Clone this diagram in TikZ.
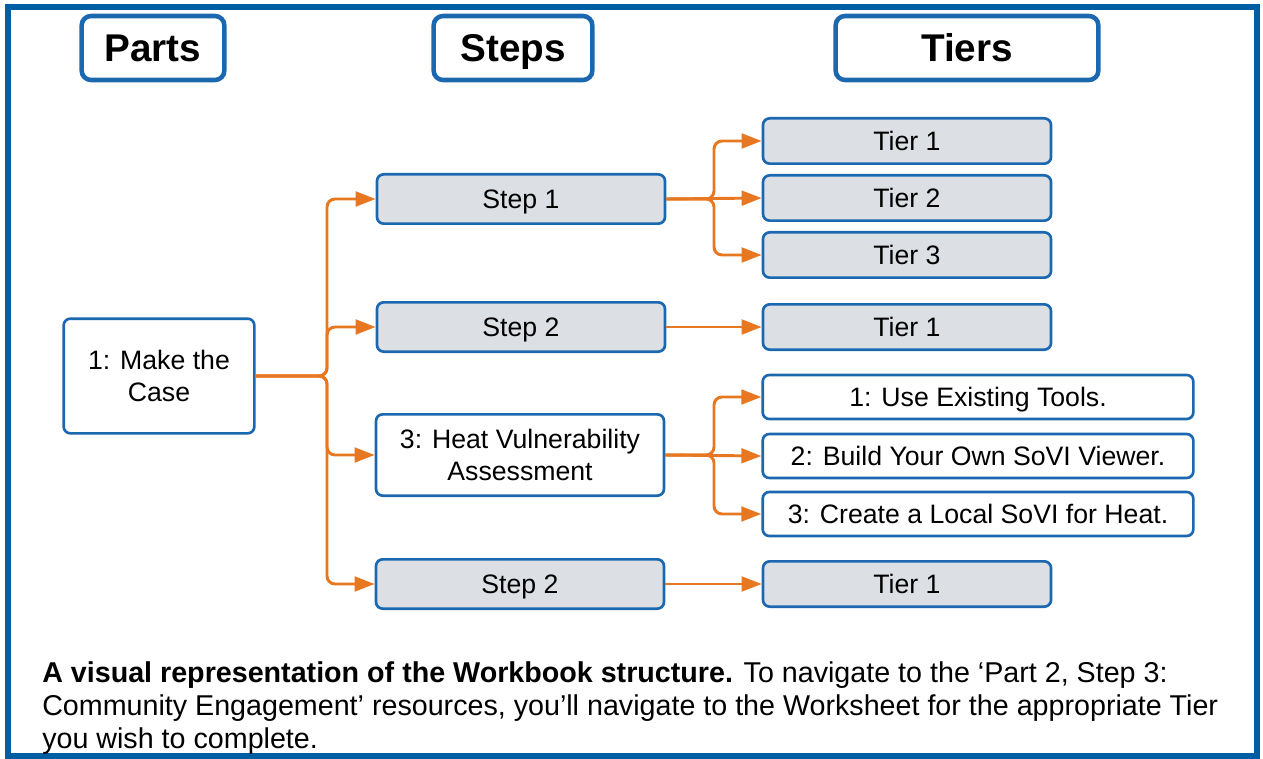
\documentclass[tikz,border=0pt]{standalone}
\usepackage{fontspec}
\setmainfont{Liberation Sans}
\usetikzlibrary{arrows.meta}
\definecolor{frameblue}{RGB}{0,94,162}
\definecolor{boxblue}{RGB}{28,104,176}
\definecolor{boxgray}{RGB}{220,224,229}
\definecolor{linkorange}{RGB}{232,119,34}
\begin{document}
\begin{tikzpicture}[
    x=0.75pt, y=-0.75pt,
    every node/.style={font=\fontsize{20}{24}\selectfont},
    headbox/.style={draw=boxblue, line width=3.4pt, rounded corners=7pt, minimum height=48pt, text height=20.8pt, text depth=0pt, font=\fontsize{29}{34}\selectfont\bfseries},
    box/.style={draw=boxblue, line width=2pt, rounded corners=5pt, align=center, inner sep=2pt},
    onebox/.style={box, text height=14.3pt, text depth=0pt},
    stepbox/.style={onebox, fill=boxgray, minimum width=216pt, minimum height=37pt},
    tierbox/.style={onebox, fill=boxgray, minimum width=216pt, minimum height=34pt},
    toolbox/.style={onebox, fill=white, minimum width=323pt, minimum height=33pt},
    link/.style={draw=linkorange, line width=2.2pt, rounded corners=6pt, -{Triangle[length=15pt,width=11pt]}}
]
    \useasboundingbox (0,0) rectangle (1263,759);
    \draw[frameblue, line width=4pt] (8,7) rectangle (1257,756);

    % column heads
    \node[headbox, minimum width=107pt] (parts) at (153,48) {Parts};
    \node[headbox, minimum width=119pt] (steps) at (513,48) {Steps};
    \node[headbox, minimum width=197pt] (tiers) at (967,48) {Tiers};

    % part
    \node[box, fill=white, minimum width=143pt, minimum height=86pt] (case) at (159,376) {1: Make the\\Case};

    % steps
    \node[stepbox] (s1) at (521,199) {Step 1};
    \node[stepbox] (s2) at (521,327) {Step 2};
    \node[box, fill=white, minimum width=216pt, minimum height=61pt] (s3) at (520,455) {3: Heat Vulnerability\\Assessment};
    \node[stepbox] (s4) at (520,584) {Step 2};

    % tiers
    \node[tierbox] (t11) at (907,141) {Tier 1};
    \node[tierbox] (t12) at (907,198) {Tier 2};
    \node[tierbox] (t13) at (907,255) {Tier 3};
    \node[tierbox] (t21) at (907,327) {Tier 1};
    \node[toolbox] (t31) at (978,397) {1: Use Existing Tools.};
    \node[toolbox] (t32) at (978,456) {2: Build Your Own SoVI Viewer.};
    \node[toolbox] (t33) at (978,514) {3: Create a Local SoVI for Heat.};
    \node[tierbox] (t41) at (907,584) {Tier 1};

    % connectors
    \coordinate (j0) at (327,376);
    \coordinate (j1) at (714,199);
    \coordinate (j3) at (714,455);
    \draw[link] (case.east) -- (j0) |- (s1.west);
    \draw[link] (case.east) -- (j0) |- (s2.west);
    \draw[link] (case.east) -- (j0) |- (s3.west);
    \draw[link] (case.east) -- (j0) |- (s4.west);
    \draw[link] (s1.east) -- (t12.west);
    \draw[link] (s1.east) -- (j1) |- (t11.west);
    \draw[link] (s1.east) -- (j1) |- (t13.west);
    \draw[link] (s2.east) -- (t21.west);
    \draw[link] (s3.east) -- (t32.west);
    \draw[link] (s3.east) -- (j3) |- (t31.west);
    \draw[link] (s3.east) -- (j3) |- (t33.west);
    \draw[link] (s4.east) -- (t41.west);

    % caption
    \node[anchor=base west, align=left, inner sep=0pt, font=\fontsize{21.5}{24.75}\selectfont] (caption) at (42,748)
        {\textbf{A visual representation of the Workbook structure.} To navigate to the ‘Part 2, Step 3:\\
         Community Engagement’ resources, you’ll navigate to the Worksheet for the appropriate Tier\\
         you wish to complete.};
\end{tikzpicture}
\end{document}
